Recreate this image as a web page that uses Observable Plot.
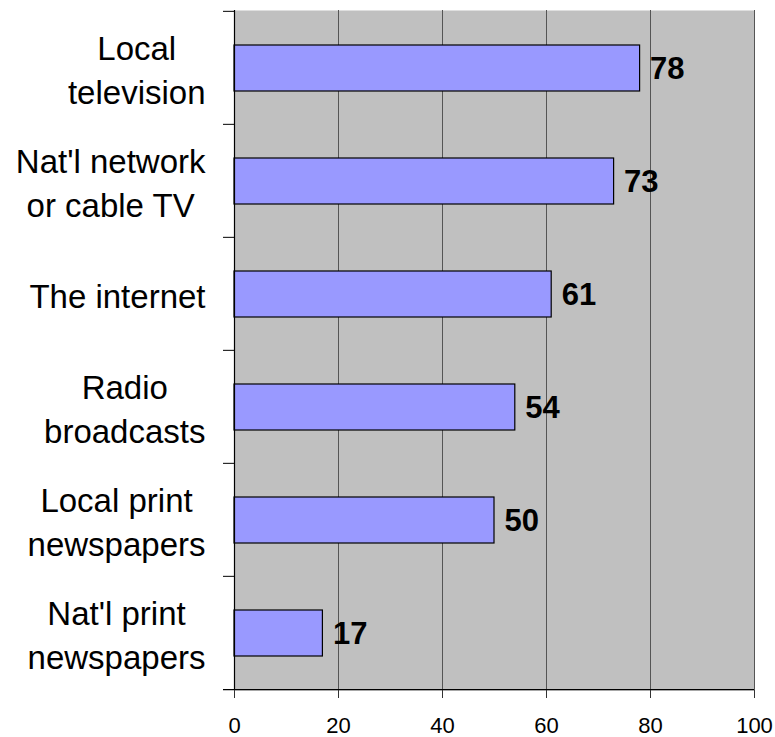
<!DOCTYPE html>
<html>
<head>
<meta charset="utf-8">
<script src="https://cdn.jsdelivr.net/npm/d3@7"></script>
<script src="https://cdn.jsdelivr.net/npm/@observablehq/plot@0.6"></script>
<style>
  html, body { margin: 0; padding: 0; background: white; }
</style>
</head>
<body>
<div id="chart"></div>
<script>
const categories = [
  "Local\ntelevision",
  "Nat'l network\nor cable TV",
  "The internet",
  "Radio\nbroadcasts",
  "Local print\nnewspapers",
  "Nat'l print\nnewspapers"
];
const values = [78, 73, 61, 54, 50, 17];
const xTicks = [0, 20, 40, 60, 80, 100];

const data = categories.map((c, i) => ({category: c, value: values[i]}));

const W = 775, H = 737;
const mTop = 10, mBottom = 47, mLeft = 234, mRight = 21;
const band = (H - mTop - mBottom) / categories.length;
const font = "'Liberation Sans', Arial, sans-serif";
const labelSize = 33;
const labelGap = 29;

const ctx = document.createElement("canvas").getContext("2d");
ctx.font = `${labelSize}px ${font}`;
const maxLineWidth = s => Math.max(...s.split("\n").map(l => ctx.measureText(l).width));

const labelMarks = categories.map(c =>
  Plot.text([c], {
    y: d => d,
    text: d => d,
    frameAnchor: "left",
    textAnchor: "middle",
    dx: -(labelGap + maxLineWidth(c) / 2),
    fontSize: labelSize,
    lineHeight: 1.32,
    fill: "black"
  })
);

const chart = Plot.plot({
  width: W,
  height: H,
  marginTop: mTop,
  marginBottom: mBottom,
  marginLeft: mLeft,
  marginRight: mRight,
  style: {fontFamily: font, background: "white", color: "black"},
  x: {domain: [0, 100], axis: null, label: null},
  y: {domain: categories, padding: 0, axis: null},
  marks: [
    Plot.frame({fill: "#c0c0c0", stroke: "none"}),
    Plot.ruleX(xTicks.slice(1), {stroke: "#555", strokeWidth: 1}),
    Plot.barX(data, {
      x: "value", y: "category",
      fill: "#9999ff", stroke: "black", strokeWidth: 1.2,
      insetTop: 34, insetBottom: 33
    }),
    Plot.text(data, {
      x: "value", y: "category", text: d => String(d.value),
      textAnchor: "start", dx: 10, dy: 1.5,
      fontSize: 31, fontWeight: "bold", fill: "black"
    }),
    // left axis line
    Plot.ruleX([0], {stroke: "black", strokeWidth: 1.2}),
    // category boundary ticks
    Plot.ruleY(categories, {
      y: d => d, x1: 0, x2: 0, insetLeft: -11, dy: -band / 2,
      stroke: "black", strokeWidth: 1
    }),
    // bottom axis line with final tick
    Plot.ruleY([categories[categories.length - 1]], {
      y: d => d, x1: 0, x2: 100, insetLeft: -11, dy: band / 2,
      stroke: "black", strokeWidth: 1.2
    }),
    Plot.axisX({ticks: xTicks, tickSize: 8, text: null, stroke: "#333", label: null}),
    Plot.text(xTicks, {
      x: d => d, frameAnchor: "bottom", lineAnchor: "top", dy: 27,
      text: d => String(d), fontSize: 22, fill: "black"
    }),
    ...labelMarks
  ]
});

document.getElementById("chart").appendChild(chart);
</script>
</body>
</html>
